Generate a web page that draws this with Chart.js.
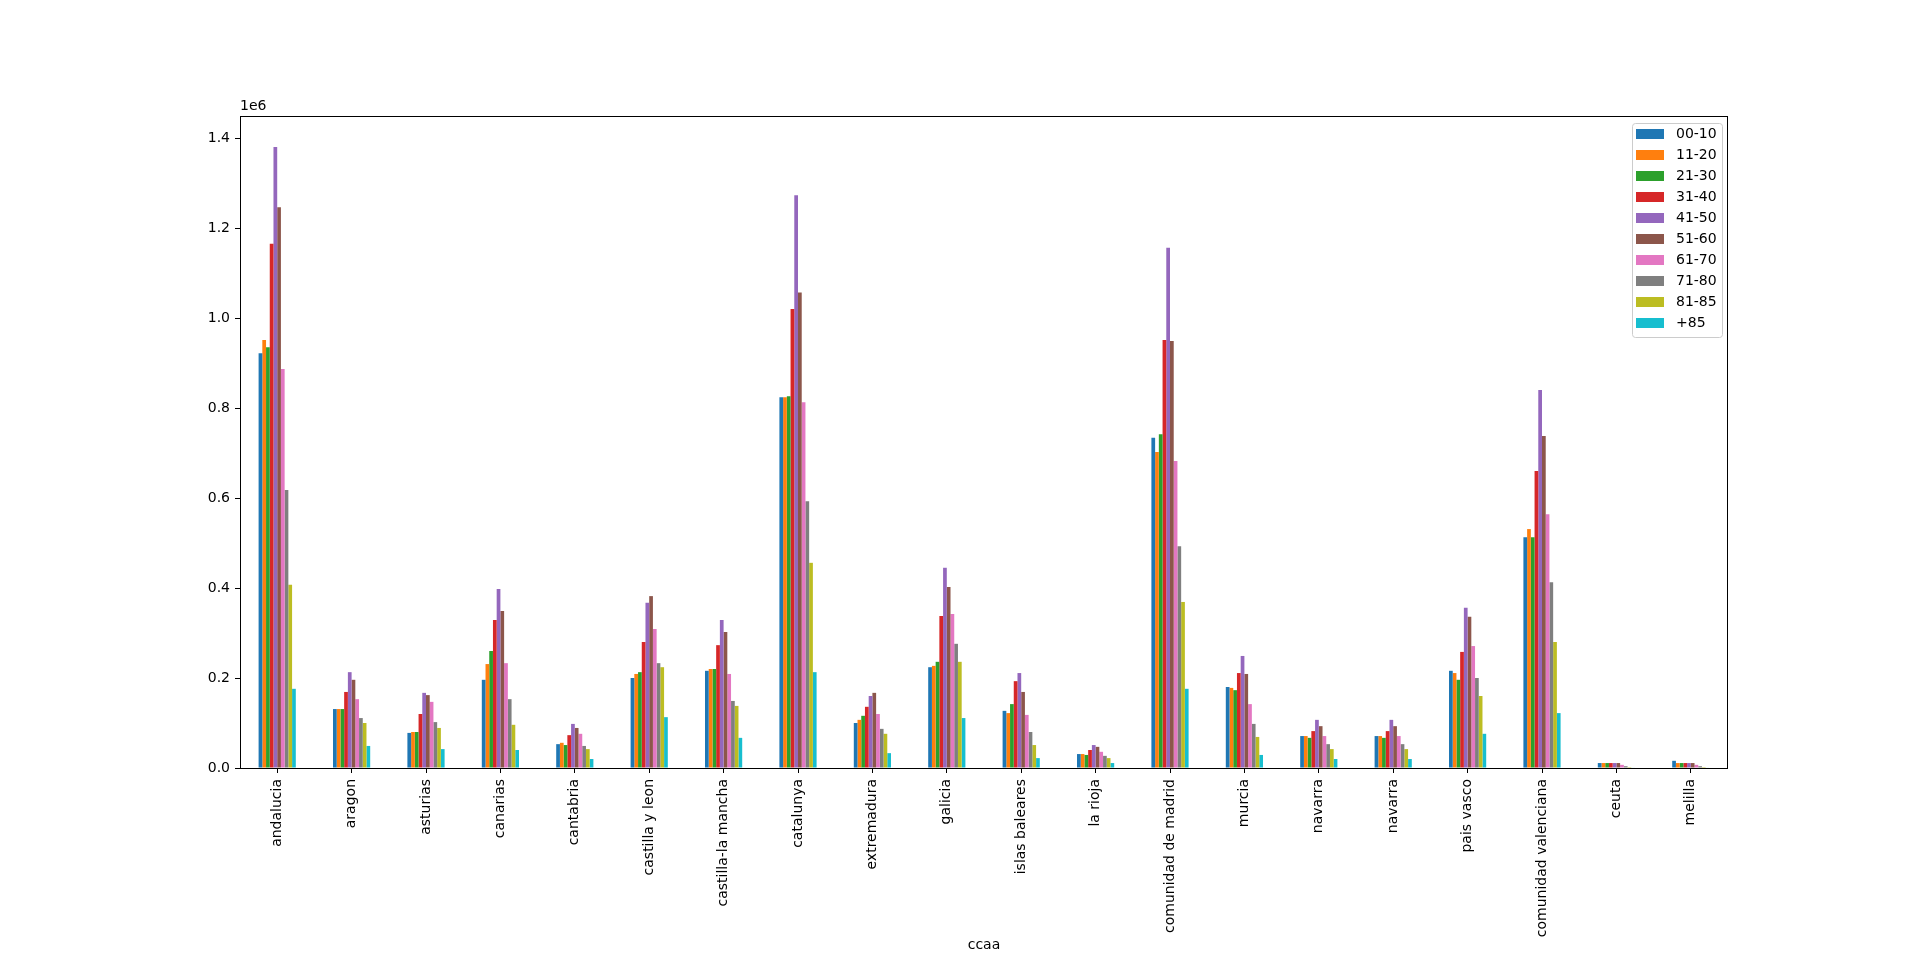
<!DOCTYPE html>
<html>
<head>
<meta charset="utf-8">
<script src="https://cdn.jsdelivr.net/npm/chart.js@4/dist/chart.umd.min.js"></script>
<style>
  html, body { margin: 0; padding: 0; background: #fff; }
  canvas { display: block; }
</style>
</head>
<body>
<canvas id="barChart_div" width="1920" height="963"></canvas>
<script>
// regions (ccaa)
const ccaa = ["andalucia", "aragon", "asturias", "canarias", "cantabria", "castilla y leon",
    "castilla-la mancha", "catalunya", "extremadura", "galicia", "islas baleares", "la rioja",
    "comunidad de madrid", "murcia", "navarra", "navarra", "pais vasco", "comunidad valenciana",
    "ceuta", "melilla"];

// population per age group, same order as ccaa
const age00_10 = [922000, 131000, 78000, 196000, 53000, 200000, 216000, 824000, 100000, 224000, 127000, 31000, 734000, 180000, 71000, 71000, 216000, 513000, 11000, 16000];
const age11_20 = [951000, 131000, 80000, 231000, 56000, 209000, 220000, 824000, 107000, 227000, 122000, 31000, 702000, 178000, 71000, 71000, 211000, 531000, 11000, 11000];
const age21_30 = [935000, 131000, 80000, 260000, 51000, 213000, 220000, 826000, 116000, 236000, 142000, 29000, 742000, 173000, 67000, 67000, 196000, 513000, 11000, 11000];
const age31_40 = [1165000, 169000, 120000, 329000, 73000, 280000, 273000, 1020000, 136000, 338000, 193000, 40000, 951000, 211000, 82000, 82000, 258000, 660000, 11000, 11000];
const age41_50 = [1380000, 213000, 167000, 398000, 98000, 367000, 329000, 1273000, 160000, 445000, 211000, 51000, 1156000, 249000, 107000, 107000, 356000, 840000, 11000, 11000];
const age51_60 = [1246000, 196000, 162000, 349000, 89000, 382000, 302000, 1057000, 167000, 402000, 169000, 47000, 949000, 209000, 93000, 93000, 336000, 738000, 11000, 11000];
const age61_70 = [887000, 153000, 147000, 233000, 76000, 309000, 209000, 813000, 120000, 342000, 118000, 36000, 682000, 142000, 71000, 71000, 271000, 564000, 7000, 7000];
const age71_80 = [618000, 111000, 102000, 153000, 49000, 233000, 149000, 593000, 87000, 276000, 80000, 27000, 493000, 98000, 53000, 53000, 200000, 413000, 4000, 4000];
const age81_85 = [407000, 100000, 89000, 96000, 42000, 224000, 138000, 456000, 76000, 236000, 51000, 22000, 369000, 69000, 42000, 42000, 160000, 280000, 2000, 2000];
const age85plus = [176000, 49000, 42000, 40000, 20000, 113000, 67000, 213000, 33000, 111000, 22000, 11000, 176000, 29000, 20000, 20000, 76000, 122000, 1000, 1000];

const groupLabels = ["00-10", "11-20", "21-30", "31-40", "41-50", "51-60", "61-70", "71-80", "81-85", "+85"];
const yTicks = [0, 200000, 400000, 600000, 800000, 1000000, 1200000, 1400000];

const colors = ["#1f77b4", "#ff7f0e", "#2ca02c", "#d62728", "#9467bd",
                "#8c564b", "#e377c2", "#7f7f7f", "#bcbd22", "#17becf"];
const series = [age00_10, age11_20, age21_30, age31_40, age41_50,
                age51_60, age61_70, age71_80, age81_85, age85plus];

Chart.defaults.font.family = "'DejaVu Sans', sans-serif";
Chart.defaults.font.size = 14;
Chart.defaults.color = "#000";

// frame, "1e6", x label and matplotlib-like legend
const extras = {
    id: 'extras',
    afterDraw(chart) {
        const ctx = chart.ctx;
        const a = chart.chartArea;
        ctx.save();
        ctx.strokeStyle = '#000';
        ctx.lineWidth = 1;
        ctx.strokeRect(a.left + 0.5, a.top + 0.5, a.right - a.left - 1, a.bottom - a.top);

        ctx.fillStyle = '#000';
        ctx.font = "14px 'DejaVu Sans'";
        ctx.textAlign = 'left';
        ctx.textBaseline = 'alphabetic';
        ctx.fillText('1e6', a.left, a.top - 6);

        ctx.textAlign = 'center';
        ctx.textBaseline = 'middle';
        ctx.fillText('ccaa', (a.left + a.right) / 2, 945);

        // legend box
        const lx = 1632, ly = 123, lw = 90, lh = 214;
        ctx.beginPath();
        ctx.roundRect(lx + 0.5, ly + 0.5, lw, lh, 3);
        ctx.fillStyle = 'rgba(255,255,255,0.8)';
        ctx.fill();
        ctx.strokeStyle = '#cccccc';
        ctx.stroke();
        chart.data.datasets.forEach((ds, i) => {
            const cy = 134 + i * 21;
            ctx.fillStyle = ds.backgroundColor;
            ctx.fillRect(1636, cy - 5, 28, 10);
            ctx.fillStyle = '#000';
            ctx.textAlign = 'left';
            ctx.fillText(ds.label, 1676, cy);
        });
        ctx.restore();
    }
};

const ctx = document.getElementById('barChart_div').getContext('2d');
new Chart(ctx, {
    type: 'bar',
    data: {
        labels: ccaa,
        datasets: groupLabels.map((g, i) => ({
            label: g,
            data: series[i],
            backgroundColor: colors[i],
            borderWidth: 0,
            categoryPercentage: 0.5,
            barPercentage: 1.0
        }))
    },
    options: {
        responsive: false,
        animation: false,
        devicePixelRatio: 1,
        layout: { padding: { left: 0, right: 192, top: 116, bottom: 0 } },
        plugins: {
            legend: { display: false },
            tooltip: { enabled: false }
        },
        scales: {
            x: {
                offset: true,
                grid: { offset: false, drawOnChartArea: false, drawTicks: true, tickLength: 5, tickColor: '#000' },
                border: { display: false },
                ticks: { minRotation: 90, maxRotation: 90, autoSkip: false, padding: 6, color: '#000' },
                afterFit(scale) { scale.height = 195; }
            },
            y: {
                min: 0,
                max: 1449000,
                grid: { drawOnChartArea: false, drawTicks: true, tickLength: 5, tickColor: '#000' },
                border: { display: false },
                ticks: {
                    padding: 5,
                    color: '#000',
                    callback: (v) => (v / 1e6).toFixed(1)
                },
                afterBuildTicks(scale) { scale.ticks = yTicks.map(v => ({ value: v })); },
                afterFit(scale) { scale.width = 240; }
            }
        }
    },
    plugins: [extras]
});
</script>
</body>
</html>
